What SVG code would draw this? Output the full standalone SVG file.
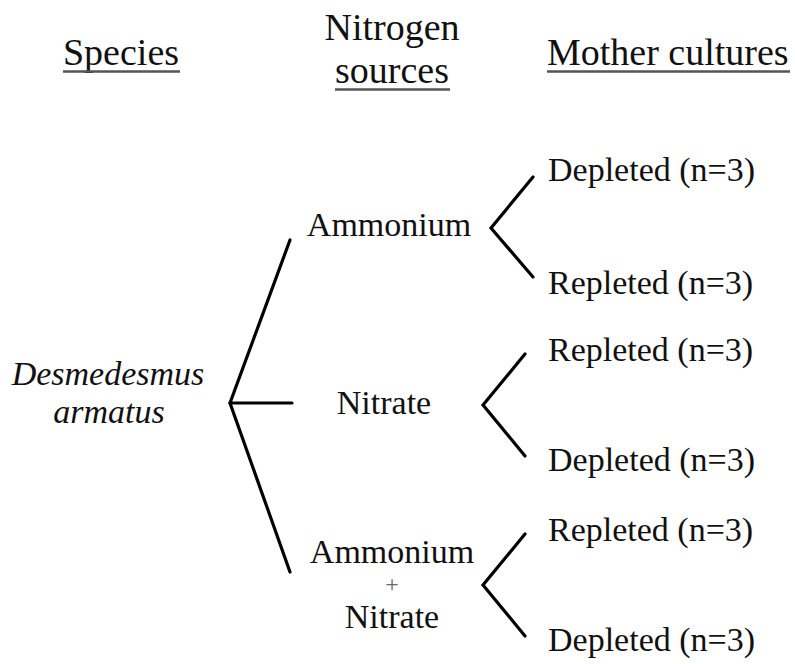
<svg xmlns="http://www.w3.org/2000/svg" width="795" height="664" viewBox="0 0 795 664">
<style>
text{font-family:"Liberation Serif","Times New Roman",serif;fill:#111}
.h{font-size:38px}
.n{font-size:34px}
.i{font-size:34px;font-style:italic}
.c{text-anchor:middle}
.ul{stroke:#555;stroke-width:2.5}
.ln{stroke:#000;stroke-width:3.2;fill:none;stroke-linecap:round;stroke-linejoin:miter}
</style>
<rect width="795" height="664" fill="#fff"/>
<g id="headers">
<text class="h c" x="121" y="65">Species</text>
<line class="ul" x1="63" y1="71.5" x2="180" y2="71.5"/>
<text class="h c" x="392" y="40">Nitrogen</text>
<text class="h c" x="392" y="83">sources</text>
<line class="ul" x1="335" y1="89.5" x2="450" y2="89.5"/>
<text class="h" x="547" y="65">Mother cultures</text>
<line class="ul" x1="547" y1="71.5" x2="790" y2="71.5"/>
</g>
<g id="species">
<text class="i c" x="108" y="385">Desmedesmus</text>
<text class="i c" x="109" y="423">armatus</text>
</g>
<g id="ammonium"><text class="n c" x="389" y="236">Ammonium</text></g>
<g id="nitrate"><text class="n c" x="384" y="414">Nitrate</text></g>
<g id="ammonium-nitrate">
<text class="n c" x="392" y="563">Ammonium</text>
<text class="c" x="392" y="592" style="font-size:24px;fill:#666">+</text>
<text class="n c" x="392" y="628">Nitrate</text>
</g>
<g id="amm-depleted"><text class="n" x="548" y="181">Depleted (n=3)</text></g>
<g id="amm-repleted"><text class="n" x="548" y="294">Repleted (n=3)</text></g>
<g id="nit-repleted"><text class="n" x="548" y="361">Repleted (n=3)</text></g>
<g id="nit-depleted"><text class="n" x="548" y="471">Depleted (n=3)</text></g>
<g id="an-repleted"><text class="n" x="548" y="541">Repleted (n=3)</text></g>
<g id="an-depleted"><text class="n" x="548" y="651">Depleted (n=3)</text></g>
<g id="connectors">
<polyline class="ln" points="290,240 230,403 290,572"/>
<line class="ln" x1="230" y1="403" x2="292" y2="403"/>
<polyline class="ln" points="533,177 491,228 533,277"/>
<polyline class="ln" points="525,354 483,405 525,456"/>
<polyline class="ln" points="525,534 483,585 525,636"/>
</g>
</svg>
